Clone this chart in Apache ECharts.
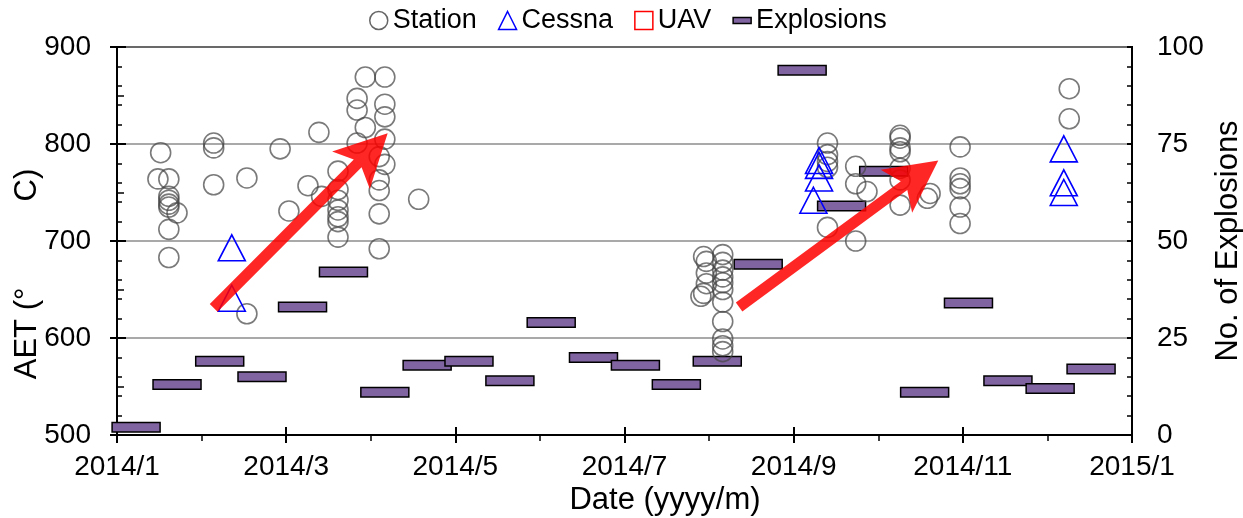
<!DOCTYPE html>
<html>
<head>
<meta charset="utf-8">
<script src="https://cdn.jsdelivr.net/npm/echarts@6/dist/echarts.min.js"></script>
<style>
  html, body { margin: 0; padding: 0; background: #fff; }
  #chart { width: 1243px; height: 518px; }
</style>
</head>
<body>
<div id="chart"></div>
<script>
// Ground-station AET measurements
const stationDates = [
  '2014-01-17','2014-01-16','2014-01-20','2014-01-20','2014-01-20','2014-01-20','2014-01-20','2014-01-23','2014-01-20','2014-01-20',
  '2014-02-05','2014-02-05','2014-02-05','2014-02-16','2014-02-16','2014-02-27','2014-03-02',
  '2014-03-13','2014-03-09','2014-03-14','2014-03-20','2014-03-20','2014-03-20','2014-03-20','2014-03-20','2014-03-20','2014-03-20',
  '2014-03-30','2014-03-27','2014-03-27','2014-03-30','2014-03-27',
  '2014-04-06','2014-04-06','2014-04-06','2014-04-06','2014-04-04','2014-04-06','2014-04-04','2014-04-04','2014-04-04','2014-04-04','2014-04-18',
  '2014-07-30','2014-07-31','2014-07-31','2014-07-31','2014-07-30','2014-07-29',
  '2014-08-06','2014-08-06','2014-08-06','2014-08-06','2014-08-06','2014-08-06','2014-08-06','2014-08-06','2014-08-06','2014-08-06','2014-08-06',
  '2014-09-13','2014-09-13','2014-09-13','2014-09-13','2014-09-13','2014-09-23','2014-09-23','2014-09-23','2014-09-27',
  '2014-10-09','2014-10-09','2014-10-09','2014-10-09','2014-10-09','2014-10-09','2014-10-09','2014-10-19','2014-10-20',
  '2014-10-31','2014-10-31','2014-10-31','2014-10-31','2014-10-31','2014-10-31',
  '2014-12-09','2014-12-09'
];
const stationAET = [
  791, 764, 764, 746, 742, 738, 735, 729, 712, 683,
  801, 796, 758, 765, 625, 795, 731,
  812, 757, 746, 772, 753, 742, 732, 725, 720, 704,
  869, 847, 835, 817, 801,
  869, 841, 828, 805, 787, 779, 763, 752, 728, 692, 743,
  684, 679, 667, 656, 646, 643,
  686, 678, 670, 663, 657, 650, 637, 617, 599, 592, 586,
  801, 789, 782, 776, 714, 777, 759, 700, 751,
  809, 806, 796, 792, 775, 763, 737, 744, 749,
  797, 765, 759, 754, 735, 718,
  857, 826
];

// Airborne (Cessna) AET measurements
const cessnaDates = ['2014-02-11','2014-02-11','2014-09-10','2014-09-10','2014-09-10','2014-09-08','2014-12-07','2014-12-07','2014-12-07'];
const cessnaAET = [693, 641, 783, 778, 765, 742, 795, 760, 750];

// UAV AET measurements (none in this period)
const uavDates = [];
const uavAET = [];

// Semi-monthly explosion counts
const explosionDates = [
  '2014-01-08','2014-01-23','2014-02-07','2014-02-21','2014-03-07','2014-03-22',
  '2014-04-06','2014-04-21','2014-05-06','2014-05-21','2014-06-05','2014-06-20',
  '2014-07-05','2014-07-20','2014-08-04','2014-08-19','2014-09-04','2014-09-18',
  '2014-10-03','2014-10-18','2014-11-03','2014-11-17','2014-12-02','2014-12-17'
];
const explosionCounts = [2, 13, 19, 15, 33, 42, 11, 18, 19, 14, 29, 20, 18, 13, 19, 44, 94, 59, 68, 11, 34, 14, 12, 17];

// Trend arrows: [date, AET] of tail and head
const arrowFrom = [['2014-02-05', 631], ['2014-08-12', 632]];
const arrowTo   = [['2014-04-07', 811], ['2014-10-23', 783]];

// Axis tick labels (one every two months)
const monthLabels = ['2014/1', '2014/3', '2014/5', '2014/7', '2014/9', '2014/11', '2015/1'];

// Date string -> months since 2014-01-01 (each month equally wide on the axis)
function monthPos(s) {
  const [y, m, d] = s.split('-').map(Number);
  const days = new Date(y, m, 0).getDate();
  return (y - 2014) * 12 + (m - 1) + (d - 1) / days;
}
const pairs = (dates, vals) => dates.map((d, i) => [monthPos(d), vals[i]]);

const FONT = '"Liberation Sans", Arial, sans-serif';
const PURPLE = '#8064a2';

function arrowPolygon(p1, p2) {
  const dx = p2[0] - p1[0], dy = p2[1] - p1[1];
  const len = Math.hypot(dx, dy);
  const ux = dx / len, uy = dy / len, nx = -uy, ny = ux;
  const hw = 5.5, headLen = 52, headHalf = 26.6, notch = 12;
  const at = (back, side) => [p2[0] - ux * back + nx * side, p2[1] - uy * back + ny * side];
  const join = headLen - notch * (1 - hw / headHalf);
  return [
    [p1[0] + nx * hw, p1[1] + ny * hw],
    at(join, hw),
    at(headLen, headHalf),
    [p2[0], p2[1]],
    at(headLen, -headHalf),
    at(join, -hw),
    [p1[0] - nx * hw, p1[1] - ny * hw]
  ];
}

const tickBlack = { color: '#000', width: 2 };
const minorBlack = { color: '#000', width: 1.5 };

const chart = echarts.init(document.getElementById('chart'));
chart.setOption({
  animation: false,
  textStyle: { fontFamily: FONT, color: '#000' },
  grid: {
    left: 117, right: 111, top: 47, bottom: 83,
    outerBoundsMode: 'none', containLabel: false,
    show: true, borderColor: '#000', borderWidth: 2
  },
  legend: {
    top: 7,
    left: 369,
    padding: 0,
    itemWidth: 18,
    itemHeight: 18,
    itemGap: 21,
    textStyle: { fontFamily: FONT, fontSize: 27, color: '#000' },
    data: [
      { name: 'Station', icon: 'circle', itemStyle: { color: 'rgba(0,0,0,0)', borderColor: '#666', borderWidth: 1.5, opacity: 1 } },
      { name: 'Cessna', icon: 'triangle', itemStyle: { color: 'rgba(0,0,0,0)', borderColor: '#0000ff', borderWidth: 1.5, opacity: 1 } },
      { name: 'UAV', icon: 'rect', itemStyle: { color: 'rgba(0,0,0,0)', borderColor: '#ff0000', borderWidth: 1.5, opacity: 1 } },
      { name: 'Explosions', icon: 'path://M0,0H30V10H0Z', itemStyle: { color: PURPLE, borderColor: '#000', borderWidth: 1.5, opacity: 1 } }
    ]
  },
  xAxis: [
    {
      type: 'value', min: 0, max: 12, interval: 2, position: 'bottom',
      axisLine: { lineStyle: tickBlack },
      axisTick: { show: true, length: 8, lineStyle: tickBlack },
      minorTick: { show: true, splitNumber: 2, length: 6, lineStyle: minorBlack },
      splitLine: { show: false },
      axisLabel: { fontSize: 28, color: '#000', margin: 18, formatter: v => monthLabels[Math.round(v / 2)] },
      name: 'Date (yyyy/m)', nameLocation: 'middle', nameGap: 50, nameMoveOverlap: false,
      nameTextStyle: { fontSize: 31, color: '#000', padding: [0, 0, 0, 81] }
    },
    {
      type: 'value', min: 0, max: 12, interval: 2, position: 'bottom',
      axisLine: { show: false },
      axisTick: { show: true, inside: true, length: 8, lineStyle: tickBlack },
      axisLabel: { show: false }, splitLine: { show: false }
    }
  ],
  yAxis: [
    {
      type: 'value', min: 500, max: 900, interval: 100, position: 'left',
      axisLine: { show: true, lineStyle: tickBlack },
      axisTick: { show: true, inside: true, length: 9, lineStyle: tickBlack },
      minorTick: { show: true, splitNumber: 2, length: 7, lineStyle: minorBlack },
      splitLine: { show: true, lineStyle: { color: '#8c8c8c', width: 1.5 } },
      axisLabel: { fontSize: 28, color: '#000', margin: 26 },
      name: 'AET (°          C)', nameLocation: 'middle', nameRotate: 90, nameGap: 74, nameMoveOverlap: false,
      nameTextStyle: { fontSize: 31, color: '#000', padding: [0, 66, 0, 0] }
    },
    {
      type: 'value', min: 0, max: 100, interval: 25, position: 'right',
      axisLine: { show: true, lineStyle: tickBlack },
      axisTick: { show: true, length: 8, lineStyle: tickBlack },
      minorTick: { show: true, splitNumber: 5, length: 5, lineStyle: minorBlack },
      splitLine: { show: false },
      axisLabel: { fontSize: 28, color: '#000', margin: 25 },
      name: 'No. of Explosions', nameLocation: 'middle', nameRotate: 90, nameGap: 81, nameMoveOverlap: false,
      nameTextStyle: { fontSize: 31, color: '#000' }
    },
    {
      type: 'value', min: 500, max: 900, interval: 100, position: 'left',
      axisLine: { show: false },
      axisTick: { show: true, length: 7, lineStyle: tickBlack },
      axisLabel: { show: false }, splitLine: { show: false }
    },
    {
      type: 'value', min: 0, max: 100, interval: 25, position: 'right',
      axisLine: { show: false },
      axisTick: { show: true, inside: true, length: 5, lineStyle: tickBlack },
      minorTick: { show: true, splitNumber: 5, length: 5, lineStyle: minorBlack },
      axisLabel: { show: false }, splitLine: { show: false }
    }
  ],
  series: [
    {
      name: 'Explosions', type: 'custom', xAxisIndex: 0, yAxisIndex: 1, z: 2, silent: true,
      data: pairs(explosionDates, explosionCounts),
      renderItem: (params, api) => {
        const c = api.coord([api.value(0), api.value(1)]);
        return {
          type: 'rect',
          shape: { x: c[0] - 24, y: c[1] - 4.75, width: 48, height: 9.5 },
          style: { fill: PURPLE, stroke: '#000', lineWidth: 1.5 }
        };
      }
    },
    {
      name: 'Station', type: 'scatter', xAxisIndex: 0, yAxisIndex: 0, z: 3,
      symbol: 'circle', symbolSize: 20,
      itemStyle: { color: 'rgba(0,0,0,0)', borderColor: 'rgba(70,70,70,0.72)', borderWidth: 1.6, opacity: 1 },
      emphasis: { disabled: true },
      data: pairs(stationDates, stationAET)
    },
    {
      name: 'Cessna', type: 'scatter', xAxisIndex: 0, yAxisIndex: 0, z: 4,
      symbol: 'triangle', symbolSize: [27, 26],
      itemStyle: { color: 'rgba(0,0,0,0)', borderColor: '#0000ff', borderWidth: 1.6, opacity: 1 },
      emphasis: { disabled: true },
      data: pairs(cessnaDates, cessnaAET)
    },
    {
      name: 'UAV', type: 'scatter', xAxisIndex: 0, yAxisIndex: 0, z: 4,
      symbol: 'rect', symbolSize: 17,
      itemStyle: { color: 'rgba(0,0,0,0)', borderColor: '#ff0000', borderWidth: 1.5, opacity: 1 },
      data: pairs(uavDates, uavAET)
    },
    {
      name: 'Trend', type: 'custom', xAxisIndex: 0, yAxisIndex: 0, z: 6, silent: true, clip: false,
      data: arrowFrom.map((a, i) => [monthPos(a[0]), a[1], monthPos(arrowTo[i][0]), arrowTo[i][1]]),
      renderItem: (params, api) => {
        const p1 = api.coord([api.value(0), api.value(1)]);
        const p2 = api.coord([api.value(2), api.value(3)]);
        return {
          type: 'polygon',
          shape: { points: arrowPolygon(p1, p2) },
          style: { fill: 'rgba(255,0,0,0.85)' }
        };
      }
    }
  ]
});
</script>
</body>
</html>
